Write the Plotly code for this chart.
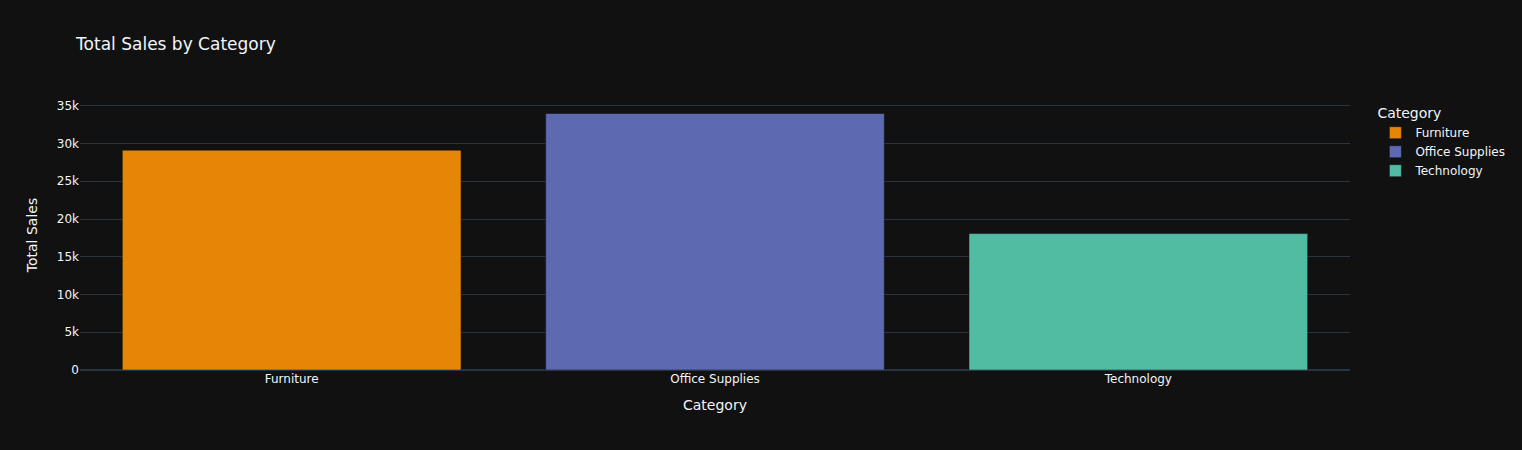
import plotly.graph_objects as go

categories = ["Furniture", "Office Supplies", "Technology"]
sales = [29120, 33980, 18070]
colors = ["rgb(229, 134, 6)", "rgb(93, 105, 177)", "rgb(82, 188, 163)"]

fig = go.Figure()
for c, v, col in zip(categories, sales, colors):
    fig.add_trace(go.Bar(
        x=[c], y=[v], name=c, legendgroup=c,
        marker=dict(color=col, line=dict(color="rgb(17,17,17)", width=0.5)),
    ))

fig.update_layout(
    template="plotly_dark",
    font=dict(family="DejaVu Sans"),
    title=dict(text="Total Sales by Category"),
    barmode="relative",
    height=450,
    margin=dict(t=100, b=80, l=80),
    xaxis=dict(title=dict(text="Category"), categoryorder="array", categoryarray=categories),
    yaxis=dict(title=dict(text="Total Sales")),
    legend=dict(title=dict(text="Category"), tracegroupgap=0),
)

fig.write_html(
    "out.html",
    config={"displayModeBar": False},
    post_script="document.body.style.margin='0';window.dispatchEvent(new Event('resize'));",
)
